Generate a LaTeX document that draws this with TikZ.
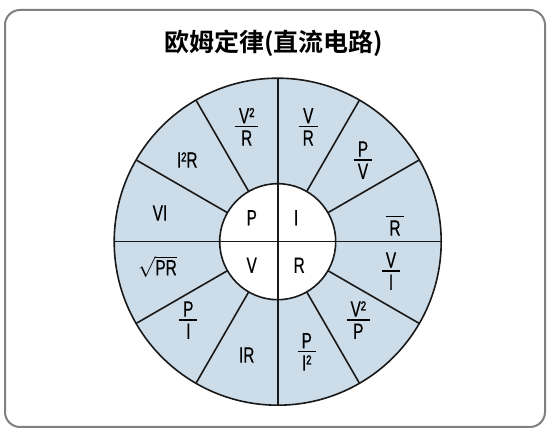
\documentclass[tikz,border=0pt]{standalone}
\usepackage{fontspec}
\setmainfont{Liberation Sans}[FakeStretch=0.7, FakeBold=0.3]
\newfontfamily\cjk{Noto Sans CJK SC Bold}
\definecolor{sector}{RGB}{204,220,232}
\definecolor{frame}{RGB}{128,128,128}
\setlength\arrayrulewidth{1.3pt}
\newcommand\frc[2]{\begin{tabular}{@{\,}c@{\,}}#1\\[-5pt]\hline#2\end{tabular}}

\begin{document}
\begin{tikzpicture}[x=1pt, y=1pt,
    frame/.style={draw=frame,
        line width=2pt,
        rounded corners=15pt,
        },
    wheel/.style={draw=black!90,
        line width=1.6pt,
        },
    term/.style={font=\fontsize{22}{26}\selectfont,
        inner sep=0pt,
        },
    title/.style={font=\fontsize{25}{30}\selectfont\cjk,
        inner sep=0pt,
        },
    ]
    \useasboundingbox (0,0) rectangle (554,435);
    \draw[frame] (5,8) rectangle (545,425);
    \node[title] (n_title) at (273.7,391.7) {欧姆定律(直流电路)};

    % the wheel
    \coordinate (c) at (277.7,193.3);
    \fill[sector] (c) circle[radius=163.5];
    \fill[white] (c) circle[radius=58];
    \foreach \a in {30,60,120,150,210,240,300,330}
        \draw[wheel, shift={(c)}] (\a:58) -- (\a:163.5);
    \draw[wheel, shift={(c)}] (-163.5,0) -- (163.5,0);
    \draw[wheel, shift={(c)}] (0,-163.5) -- (0,163.5);
    \draw[wheel] (c) circle[radius=58];
    \draw[wheel] (c) circle[radius=163.5];

    % centre
    \node[term] (n_p) at ([shift={(-26,24)}]c) {P};
    \node[term] (n_i) at ([shift={(18.5,24)}]c) {I};
    \node[term] (n_v) at ([shift={(-26,-23.5)}]c) {V};
    \node[term] (n_r) at ([shift={(21.5,-23.5)}]c) {R};

    % sectors
    \node[term] (s_vr) at ([shift={(30.6,112.5)}]c) {\frc{V}{R}};
    \node[term] (s_pv) at ([shift={(85.3,79.2)}]c) {\frc{P}{V}};
    \node[term] (s_r) at ([shift={(117.3,22.5)}]c) {\frc{\phantom{V}}{R}};
    \node[term] (s_vi) at ([shift={(113.3,-31.8)}]c) {\frc{V}{I}};
    \node[term] (s_v2p) at ([shift={(80.6,-80.8)}]c) {\frc{V²}{P}};
    \node[term] (s_pi2) at ([shift={(29,-112.5)}]c) {\frc{P}{I²}};
    \node[term] (s_ir) at ([shift={(-31,-113.3)}]c) {IR};
    \node[term] (s_pi) at ([shift={(-89.4,-80.8)}]c) {\frc{P}{I}};
    \node[term] (s_sqrt) at ([shift={(-120.2,-25)}]c) {$\sqrt{\mbox{PR}}$};
    \node[term] (s_vi2) at ([shift={(-117.7,28.7)}]c) {VI};
    \node[term] (s_i2r) at ([shift={(-90.4,81.7)}]c) {I²R};
    \node[term] (s_v2r) at ([shift={(-31,112.5)}]c) {\frc{V²}{R}};
\end{tikzpicture}
\end{document}
